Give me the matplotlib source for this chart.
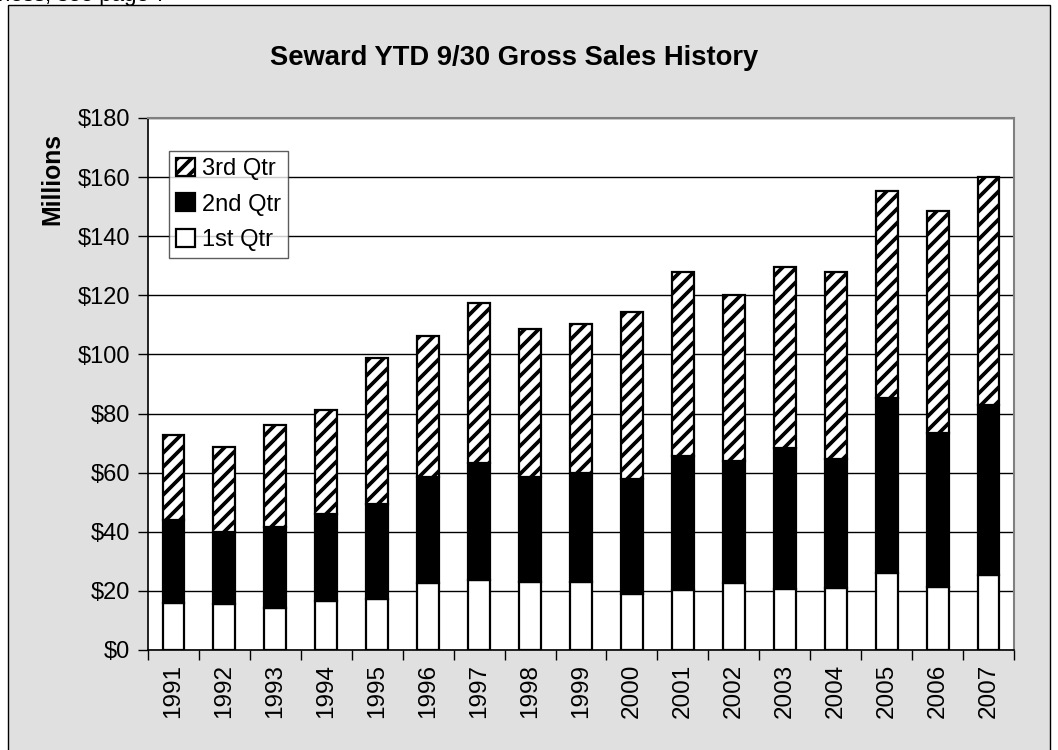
import matplotlib
matplotlib.use("Agg")
import matplotlib.pyplot as plt
import numpy as np
from matplotlib.patches import Rectangle

years = ["1991", "1992", "1993", "1994", "1995", "1996", "1997", "1998", "1999",
         "2000", "2001", "2002", "2003", "2004", "2005", "2006", "2007"]
q1 = [15.9, 15.6, 14.2, 16.5, 17.1, 22.6, 23.6, 22.9, 23.1, 18.8, 20.3, 22.8, 20.7, 20.9, 26.2, 21.4, 25.4]
q2_top = [44.0, 40.0, 41.6, 46.0, 49.4, 58.4, 63.2, 58.4, 60.0, 57.8, 65.5, 63.9, 68.4, 64.5, 85.4, 73.5, 82.9]
total = [72.7, 68.6, 76.2, 81.2, 98.9, 106.3, 117.5, 108.6, 110.2, 114.5, 127.9, 120.2, 129.7, 127.9, 155.2, 148.6, 160.2]
q2 = [b - a for a, b in zip(q1, q2_top)]
q3 = [c - b for b, c in zip(q2_top, total)]
yticks = [0, 20, 40, 60, 80, 100, 120, 140, 160, 180]
title = "Seward YTD 9/30 Gross Sales History"

DPI = 84
S = 100 / DPI  # convert sizes tuned at 100 dpi


def pt(v):
    return v * S


plt.rcParams['font.family'] = ['Liberation Sans', 'DejaVu Sans']
plt.rcParams['hatch.linewidth'] = pt(2.7)
plt.rcParams['hatch.color'] = 'black'

W, H = 1058, 750
fig = plt.figure(figsize=(W / DPI, H / DPI), dpi=DPI, facecolor='white')

# gray chart panel
panel = Rectangle((8 / W, -0.01), (1050 - 8) / W, 1 - 5 / H + 0.01, transform=fig.transFigure,
                  facecolor='#e0e0e0', edgecolor='black', linewidth=pt(1.0), zorder=-10)
fig.patches.append(panel)

# clipped text at very top
fig.text(-2 / W, 1 - 1 / H, "ness, see page 7", fontsize=pt(16), ha='left', va='baseline', color='black')

ax = fig.add_axes([148 / W, 1 - 650 / H, (1014 - 148) / W, (650 - 118) / H])
ax.set_zorder(1)
ax.set_facecolor('white')
x = np.arange(len(years))
bw = 0.43
lw = pt(1.6)
b1 = ax.bar(x, q1, bw, color='white', edgecolor='black', linewidth=lw, label='1st Qtr', zorder=3)
b2 = ax.bar(x, q2, bw, bottom=q1, color='black', edgecolor='black', linewidth=lw, label='2nd Qtr', zorder=3)
b3 = ax.bar(x, q3, bw, bottom=q2_top, color='white', edgecolor='black', linewidth=lw,
            hatch='//', label='3rd Qtr', zorder=3)

ax.set_xlim(-0.5, len(years) - 0.5)
ax.set_ylim(0, 180)
ax.set_yticks(yticks)
ax.set_yticklabels([f"${v}" for v in yticks], fontsize=pt(17))
ax.yaxis.grid(True, color='black', linewidth=pt(1.0), zorder=1)
ax.set_axisbelow(True)

ax.set_xticks(x)
ax.set_xticklabels(years, rotation=90, fontsize=pt(17.5))
ax.tick_params(axis='x', which='major', length=0, pad=pt(10))
ax.set_xticks(np.arange(-0.5, len(years), 1.0), minor=True)
ax.tick_params(axis='x', which='minor', length=pt(7), width=pt(1.0), color='black', direction='out')
ax.tick_params(axis='y', length=pt(7), width=pt(1.0), color='black', direction='out', pad=pt(6))

for s in ['left', 'bottom']:
    ax.spines[s].set_color('black')
    ax.spines[s].set_linewidth(pt(1.2))
for s in ['top', 'right']:
    ax.spines[s].set_color('#808080')
    ax.spines[s].set_linewidth(pt(1.5))

ax.set_ylabel("Millions", fontsize=pt(17.8), fontweight='bold')
ax.yaxis.set_label_coords(-0.097, 0.886)

fig.text(514 / W, 1 - 58 / H, title, fontsize=pt(19.7), fontweight='bold', ha='center', va='center')

leg = ax.legend(handles=[b3, b2, b1], loc='upper left', bbox_to_anchor=(21 / 866, 1 - 33 / 532),
                fontsize=pt(17), frameon=True, fancybox=False, edgecolor='#333333',
                handlelength=0.8, handleheight=0.8, handletextpad=0.3, borderpad=0.3,
                labelspacing=0.55, borderaxespad=0)
leg.get_frame().set_linewidth(pt(1.0))

fig.savefig("out.png", dpi=DPI, facecolor='white')
